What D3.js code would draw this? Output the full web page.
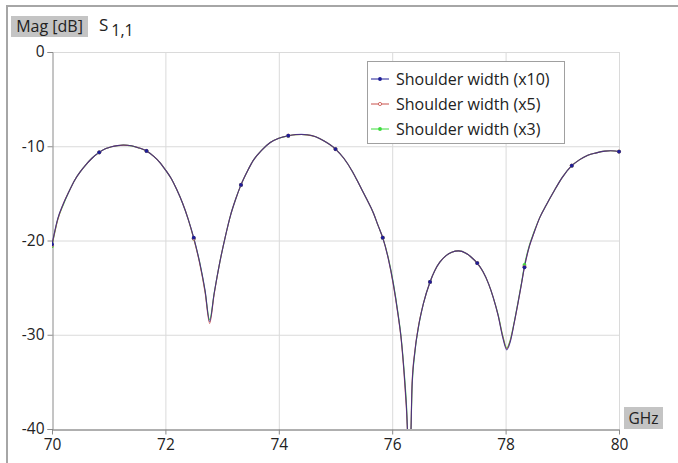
<!DOCTYPE html>
<html>
<head>
<meta charset="utf-8">
<script src="https://cdn.jsdelivr.net/npm/d3@7"></script>
<style>
  body { margin: 0; background: #fff; }
  text { font-family: "Open Sans", "Noto Sans", sans-serif; fill: #222; }
</style>
</head>
<body>
<svg id="chart" width="678" height="463"></svg>
<script>
// frequency points (GHz)
const freq = [70.0, 70.1, 70.2, 70.3, 70.4, 70.5, 70.6, 70.7, 70.833, 70.95, 71.05, 71.15, 71.26, 71.4, 71.52, 71.667,
  71.8, 71.9, 72.0, 72.1, 72.2, 72.3, 72.4, 72.5, 72.6, 72.7, 72.78, 72.86, 72.96, 73.06, 73.15, 73.24, 73.333,
  73.45, 73.55, 73.7, 73.85, 74.0, 74.167, 74.3, 74.4, 74.5, 74.65, 74.8, 75.0, 75.15, 75.3, 75.43, 75.55, 75.67,
  75.75, 75.833, 75.93, 76.02, 76.1, 76.16, 76.21, 76.25, 76.29, 76.32, 76.35, 76.4, 76.46, 76.55, 76.667, 76.75,
  76.84, 76.95, 77.05, 77.17, 77.3, 77.4, 77.5, 77.6, 77.7, 77.78, 77.87, 77.95, 78.02, 78.08, 78.15, 78.22, 78.28,
  78.333, 78.42, 78.5, 78.6, 78.72, 78.85, 79.0, 79.167, 79.3, 79.45, 79.6, 79.75, 79.85, 79.93, 80.0]

const magX10 = [-20.4, -17.7, -16.1, -14.8, -13.6, -12.7, -11.95, -11.3, -10.64, -10.25, -10.05, -9.93, -9.87, -9.95, -10.15, -10.5,
  -11.1, -11.7, -12.5, -13.4, -14.6, -16.0, -17.7, -19.7, -22.2, -25.3, -28.6, -25.6, -22.3, -19.5, -17.3, -15.6, -14.1,
  -12.6, -11.5, -10.4, -9.6, -9.15, -8.88, -8.76, -8.74, -8.78, -9.0, -9.45, -10.3, -11.3, -12.7, -14.2, -15.6, -17.1,
  -18.4, -19.7, -21.9, -24.6, -27.7, -30.5, -34.0, -37.5, -42.0, -42.0, -35.5, -31.8, -29.3, -26.7, -24.4, -23.2,
  -22.3, -21.6, -21.25, -21.1, -21.35, -21.8, -22.4, -23.3, -24.6, -26.0, -28.0, -30.3, -31.6, -30.8, -28.8, -26.6, -24.6,
  -22.8, -20.6, -19.2, -17.6, -16.2, -14.8, -13.3, -12.06, -11.45, -10.95, -10.7, -10.52, -10.47, -10.5, -10.57]

const magX5 = [-20.5, -17.8, -16.1, -14.8, -13.6, -12.7, -11.95, -11.3, -10.65, -10.25, -10.05, -9.93, -9.88, -9.95, -10.15, -10.5,
  -11.1, -11.7, -12.5, -13.4, -14.6, -16.0, -17.7, -19.8, -22.3, -25.5, -28.8, -25.7, -22.3, -19.5, -17.3, -15.6, -14.1,
  -12.6, -11.5, -10.4, -9.6, -9.15, -8.88, -8.77, -8.75, -8.79, -9.0, -9.45, -10.3, -11.3, -12.7, -14.2, -15.6, -17.1,
  -18.4, -19.7, -21.9, -24.7, -27.8, -30.6, -34.2, -37.8, -42.0, -42.0, -35.2, -31.7, -29.2, -26.7, -24.4, -23.2,
  -22.3, -21.6, -21.25, -21.1, -21.35, -21.8, -22.4, -23.3, -24.6, -26.0, -28.0, -30.2, -31.5, -30.7, -28.8, -26.6, -24.6,
  -22.8, -20.6, -19.2, -17.6, -16.2, -14.8, -13.3, -12.06, -11.45, -10.95, -10.7, -10.52, -10.47, -10.5, -10.57]

const magX3 = [-20.6, -17.8, -16.2, -14.8, -13.6, -12.7, -11.95, -11.3, -10.65, -10.25, -10.05, -9.94, -9.88, -9.96, -10.15, -10.5,
  -11.1, -11.7, -12.5, -13.4, -14.6, -16.0, -17.7, -19.8, -22.2, -25.4, -28.4, -25.6, -22.3, -19.5, -17.3, -15.6, -14.1,
  -12.6, -11.5, -10.4, -9.6, -9.15, -8.89, -8.77, -8.75, -8.79, -9.0, -9.45, -10.3, -11.3, -12.7, -14.2, -15.6, -17.1,
  -18.4, -19.7, -21.8, -24.5, -27.6, -30.4, -33.8, -37.2, -42.0, -42.0, -35.8, -31.9, -29.3, -26.7, -24.4, -23.2,
  -22.3, -21.6, -21.25, -21.1, -21.35, -21.8, -22.4, -23.3, -24.6, -26.0, -27.9, -30.1, -31.4, -30.6, -28.7, -26.5, -24.5,
  -22.6, -20.5, -19.1, -17.6, -16.2, -14.8, -13.3, -12.06, -11.45, -10.95, -10.7, -10.52, -10.47, -10.5, -10.57]

// marker positions (every 1/12 of the band)
const markerFreq = [70, 70.833, 71.667, 72.5, 73.333, 74.167, 75, 75.833, 76.667, 77.5, 78.333, 79.167, 80]
const markerX10 = [-20.4, -10.64, -10.5, -19.7, -14.1, -8.88, -10.3, -19.7, -24.4, -22.4, -22.85, -12.06, -10.57]
const markerX5 = [-20.5, -10.65, -10.5, -19.8, -14.1, -8.88, -10.3, -19.7, -24.4, -22.4, -22.8, -12.06, -10.57]
const markerX3 = [-20.6, -10.65, -10.5, -19.8, -14.1, -8.89, -10.3, -19.7, -24.4, -22.4, -22.6, -12.06, -10.57]

const seriesNames = ["Shoulder width (x10)", "Shoulder width (x5)", "Shoulder width (x3)"]
const seriesColors = ["#1e1e96", "#c8504a", "#3ddc3d"]

const xTicks = [70, 72, 74, 76, 78, 80]
const yTicks = [0, -10, -20, -30, -40]

const dims = {
	width: 678,
	height: 463,
	margin: {top: 52, left: 52, right: 59, bottom: 34}
}

const svg = d3.select("#chart")

// outer frame (top and left edges)
svg.append("path")
	.attr("d", "M7,463 V6 H678")
	.attr("fill", "none")
	.attr("stroke", "#a6a6a6")
	.attr("stroke-width", 2)

const x = d3.scaleLinear()
	.domain([70, 80])
	.range([dims.margin.left, dims.width - dims.margin.right])

const y = d3.scaleLinear()
	.domain([-40, 0])
	.range([dims.height - dims.margin.bottom, dims.margin.top])

// grid
const grid = svg.append("g").attr("stroke", "#dadada").attr("stroke-width", 1)
grid.selectAll(".gx").data(xTicks.slice(1)).join("line")
	.attr("x1", d => x(d) + 0.5).attr("x2", d => x(d) + 0.5)
	.attr("y1", y(0)).attr("y2", y(-40))
grid.selectAll(".gy").data(yTicks.slice(0, -1)).join("line")
	.attr("x1", x(70)).attr("x2", x(80))
	.attr("y1", d => y(d) + 0.5).attr("y2", d => y(d) + 0.5)

// axes (plain hyphen minus as in the original)
const yAxis = svg.append("g")
	.attr("transform", `translate(${x(70) + 0.5},0)`)
	.call(d3.axisLeft(y).tickValues(yTicks).tickSize(5).tickPadding(3).tickFormat(d => String(d)))
yAxis.select(".domain").attr("stroke", "#8a8a8a")
yAxis.selectAll(".tick line").attr("stroke", "#8a8a8a")
yAxis.selectAll("text").attr("font-size", 15.5).attr("fill", "#222")

const xAxis = svg.append("g")
	.attr("transform", `translate(0,${y(-40) + 0.5})`)
	.call(d3.axisBottom(x).tickValues(xTicks).tickSize(5).tickPadding(4).tickSizeOuter(0))
xAxis.select(".domain").attr("stroke", "#606060")
xAxis.selectAll(".tick line").attr("stroke", "#8a8a8a")
xAxis.selectAll("text").attr("font-size", 15.5).attr("fill", "#222")

// curves
svg.append("clipPath").attr("id", "plotclip")
	.append("rect")
	.attr("x", x(70)).attr("y", y(0) - 4)
	.attr("width", x(80) - x(70) + 4).attr("height", y(-40) - y(0) + 4)

const line = d3.line()
	.x(d => x(d[0]))
	.y(d => y(d[1]))
	.curve(d3.curveMonotoneX)

const series = [
	{name: seriesNames[2], color: seriesColors[2], vals: magX3, marks: markerX3, hollow: false},
	{name: seriesNames[1], color: seriesColors[1], vals: magX5, marks: markerX5, hollow: true},
	{name: seriesNames[0], color: seriesColors[0], vals: magX10, marks: markerX10, hollow: false}
]

const plot = svg.append("g").attr("clip-path", "url(#plotclip)")

series.forEach((s, i) => {
	plot.append("path")
		.datum(freq.map((f, j) => [f, s.vals[j]]))
		.attr("fill", "none")
		.attr("stroke", s.color)
		.attr("stroke-width", 1.1)
		.attr("stroke-opacity", i == 2 ? 0.7 : 0.9)
		.attr("d", line)
})

series.forEach(s => {
	plot.selectAll(null)
		.data(markerFreq.map((f, j) => [f, s.marks[j]]))
		.join("circle")
			.attr("cx", d => x(d[0]))
			.attr("cy", d => y(d[1]))
			.attr("r", s.hollow ? 1.6 : 1.9)
			.attr("fill", s.hollow ? "#fff" : s.color)
			.attr("stroke", s.color)
			.attr("stroke-width", s.hollow ? 0.8 : 0)
})

// axis title boxes
svg.append("rect").attr("x", 11).attr("y", 16).attr("width", 77).attr("height", 21).attr("fill", "#c4c4c4")
svg.append("text").attr("x", 49.5).attr("y", 32).attr("text-anchor", "middle").attr("font-size", 16).text("Mag [dB]")
const sLabel = svg.append("text").attr("x", 99).attr("y", 31).attr("font-size", 17)
sLabel.append("tspan").text("S")
sLabel.append("tspan").attr("dx", 3).attr("dy", 5).attr("font-size", 16).text("1,1")

svg.append("rect").attr("x", 624).attr("y", 407).attr("width", 39).attr("height", 22).attr("fill", "#c4c4c4")
svg.append("text").attr("x", 643.5).attr("y", 423.5).attr("text-anchor", "middle").attr("font-size", 15.5).text("GHz")

// legend
const legend = svg.append("g")
legend.append("rect")
	.attr("x", 367.5).attr("y", 61.5).attr("width", 197).attr("height", 82)
	.attr("fill", "#fff").attr("stroke", "#a0a0a0")

const legendItems = [
	{name: seriesNames[0], color: seriesColors[0], hollow: false},
	{name: seriesNames[1], color: seriesColors[1], hollow: true},
	{name: seriesNames[2], color: seriesColors[2], hollow: false}
]

legendItems.forEach((d, i) => {
	const ly = 79 + i * 25
	legend.append("line").attr("x1", 371).attr("x2", 389).attr("y1", ly).attr("y2", ly)
		.attr("stroke", d.color).attr("stroke-width", 1)
	legend.append("circle").attr("cx", 380).attr("cy", ly).attr("r", d.hollow ? 1.6 : 1.9)
		.attr("fill", d.hollow ? "#fff" : d.color).attr("stroke", d.color).attr("stroke-width", d.hollow ? 0.8 : 0)
	legend.append("text").attr("x", 396).attr("y", ly + 5.5).attr("font-size", 16).text(d.name)
})
</script>
</body>
</html>
